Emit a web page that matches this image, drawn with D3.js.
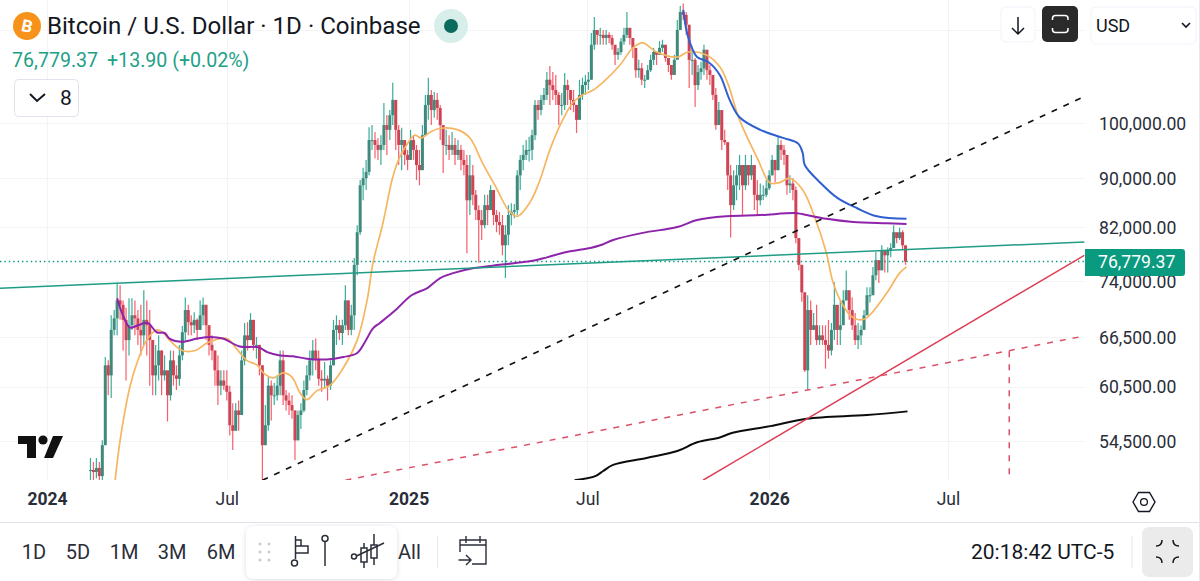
<!DOCTYPE html>
<html>
<head>
<meta charset="utf-8">
<style>
html, body { margin: 0; padding: 0; background: #fff; overflow: hidden; }
svg { display: block; font-family: Roboto, sans-serif; }
</style>
<script src="https://cdn.jsdelivr.net/npm/d3@7"></script>
</head>
<body>
<svg id="chart" width="1200" height="581"></svg>
<script>
// prices are in thousands of USD, days count from 2024-01-01
const firstCandleDay = 44, candleStepDays = 3;
const candleHighs = [
  52.8,52.4,52.8,52.4,54.6,64.0,63.6,69.3,70.0,73.7,73.4,71.3,70.3,71.6,71.6,71.3,70.0,70.7,72.7,71.3,
  70.0,66.1,65.5,66.7,64.8,64.2,61.8,64.8,64.8,63.0,65.5,67.9,71.7,70.7,69.3,69.7,68.9,71.3,71.7,70.7,
  68.0,66.7,64.8,64.2,62.4,62.4,62.4,60.6,58.6,58.6,58.9,64.8,68.3,68.4,69.6,68.7,66.5,65.5,63.0,58.4,
  61.6,61.2,60.9,61.8,64.8,64.8,60.1,59.8,59.5,57.8,57.8,58.6,61.2,63.0,64.8,66.1,66.3,64.8,62.4,63.4,
  61.8,63.6,68.7,69.3,68.7,68.7,73.4,71.3,70.7,77.3,82.3,89.7,91.8,93.2,99.2,99.6,98.3,97.2,97.7,103.9,
  101.5,102.5,108.0,103.5,99.6,99.1,96.8,95.0,98.7,97.7,95.9,95.0,99.6,105.5,109.0,106.5,106.1,105.9,103.5,99.6,
  98.7,97.7,98.3,97.2,96.8,95.9,95.0,94.1,94.1,92.3,88.0,85.5,84.7,87.2,87.2,88.8,88.0,84.7,84.4,83.9,
  82.3,85.5,85.8,85.7,91.4,94.1,95.9,96.8,97.4,98.7,104.5,104.5,105.5,106.9,110.2,111.5,110.2,109.6,106.1,105.9,
  110.0,108.6,106.5,106.5,103.5,108.6,109.0,109.6,110.2,118.7,122.4,119.4,119.9,119.4,119.4,118.9,118.3,115.4,115.4,117.6,
  119.9,123.6,118.3,117.2,113.2,112.8,112.1,109.6,111.7,113.9,115.4,114.5,116.9,117.2,115.0,113.2,110.6,113.9,121.7,125.0,
  125.6,123.6,120.6,115.0,113.2,111.7,112.4,116.1,112.8,111.7,109.6,106.9,104.1,101.5,98.7,96.4,92.3,91.4,92.3,94.1,
  92.3,94.1,92.3,94.1,92.3,89.7,89.1,88.8,89.7,91.4,94.1,92.3,97.4,96.8,95.9,92.3,90.5,90.0,88.6,79.5,
  76.3,72.4,72.0,71.3,69.6,70.7,68.0,68.0,68.0,68.7,68.3,73.8,70.0,71.3,72.7,75.5,72.0,71.7,69.6,68.3,
  68.0,70.0,73.1,73.1,76.0,78.2,76.6,79.2,78.5,78.9,79.5,82.3,81.0,81.9,81.5,78.5
];
const candleLows = [
  50.6,50.6,50.8,50.6,50.6,54.1,59.5,59.2,66.7,66.7,68.7,64.8,61.2,64.2,67.4,66.7,65.5,64.2,65.5,64.2,
  60.6,59.5,59.5,61.2,59.5,61.2,56.6,58.9,60.6,60.1,60.6,63.6,66.1,66.7,66.7,67.0,66.1,67.4,68.0,66.1,
  64.2,63.6,60.6,58.4,59.5,60.1,58.9,55.1,53.6,56.2,55.6,57.3,63.0,64.8,66.1,64.8,63.8,61.8,49.7,54.1,
  55.6,56.7,58.4,58.9,59.5,58.4,57.8,57.3,56.9,52.6,54.6,55.8,57.6,59.5,61.2,61.8,62.4,60.6,59.9,60.3,
  58.9,60.1,63.0,65.5,66.1,65.5,67.4,66.7,66.7,67.4,74.8,80.8,86.3,88.0,90.5,95.0,93.5,93.2,92.3,95.0,
  94.1,96.8,99.6,95.0,92.3,91.4,92.3,91.4,93.2,93.2,89.7,88.8,91.4,98.7,100.6,99.6,101.0,100.6,96.8,90.9,
  94.1,93.2,94.1,92.3,93.2,91.4,90.5,78.0,83.9,85.5,83.1,76.6,80.0,81.8,82.3,85.5,82.3,81.2,80.8,77.7,
  74.4,79.2,82.3,83.4,83.9,88.0,91.4,93.2,92.9,93.2,96.8,100.6,101.5,103.5,104.5,103.5,104.5,103.5,99.6,101.5,
  102.5,103.5,102.5,102.1,98.1,102.5,104.5,105.5,106.5,108.6,115.0,116.1,116.1,116.1,116.1,116.5,115.0,111.7,112.8,113.9,
  116.1,117.6,116.1,113.2,109.0,109.0,107.5,106.9,108.6,110.2,111.7,111.7,113.9,114.5,112.4,110.2,108.6,109.6,113.9,119.9,
  121.7,118.3,106.9,109.6,103.1,106.5,108.6,109.6,108.6,107.5,104.5,98.7,99.6,95.0,95.9,88.0,80.4,84.7,86.3,88.0,
  83.9,88.0,88.8,89.7,84.7,83.9,85.5,86.3,86.8,88.0,90.5,89.3,91.4,93.2,92.3,87.2,87.5,86.3,79.5,75.5,
  71.1,62.2,60.1,65.5,67.4,65.5,65.5,65.5,62.6,63.8,64.2,66.1,65.5,65.5,70.0,71.3,68.7,67.4,65.5,65.0,
  65.5,67.6,69.3,71.0,72.7,74.1,73.7,76.3,75.2,75.2,77.4,79.2,79.5,80.0,78.5,76.3
];
const candleCloses = [
  51.6,51.4,51.8,51.0,54.1,63.0,61.8,67.4,68.9,71.3,70.7,68.7,66.1,68.0,69.3,68.9,67.4,66.7,68.7,68.0,
  66.1,61.8,63.0,64.8,61.8,62.4,59.5,63.6,61.8,61.4,64.2,67.1,70.0,68.4,68.0,68.7,67.4,69.3,70.7,68.0,
  65.5,64.8,62.4,60.6,61.2,60.6,59.9,56.2,55.6,57.8,57.3,63.6,66.7,66.1,68.7,65.5,65.5,63.0,54.1,56.2,
  60.6,59.5,59.5,60.6,63.6,59.5,58.9,58.4,57.8,54.6,57.3,57.8,60.1,61.8,63.6,64.8,63.8,61.4,61.2,61.4,
  60.6,63.0,67.4,68.0,67.0,68.0,71.3,67.4,69.3,76.3,81.2,88.8,90.0,91.1,96.8,96.8,95.9,95.0,95.9,99.6,
  98.7,101.5,104.5,98.7,95.9,96.8,94.1,93.2,96.8,95.0,92.3,91.4,97.7,103.5,105.5,102.5,104.5,102.9,99.6,95.9,
  95.9,95.0,95.9,94.1,95.0,93.2,92.3,86.3,90.5,87.2,84.7,83.1,82.3,85.5,84.7,88.0,83.9,82.8,82.3,79.2,
  80.8,83.9,84.4,84.7,90.5,93.2,94.1,95.0,95.0,97.7,103.5,102.5,104.5,105.5,108.6,107.5,106.5,105.5,103.5,103.5,
  107.5,106.5,104.5,103.5,100.6,105.5,107.5,108.2,108.6,116.1,119.4,118.3,118.3,117.6,118.3,117.6,116.1,113.9,114.5,116.8,
  118.3,119.9,117.6,115.4,110.6,111.0,108.6,108.6,110.6,112.8,114.5,113.9,115.4,116.1,113.2,111.7,109.6,112.8,119.4,123.6,
  122.9,120.6,112.8,112.8,107.5,110.2,111.0,115.0,110.6,109.6,105.5,99.6,102.5,96.8,96.4,90.5,85.5,88.8,90.5,92.3,
  88.8,92.3,90.5,92.3,87.2,86.3,87.2,87.2,88.3,90.5,93.2,91.4,95.9,95.0,94.1,88.8,89.1,88.0,80.3,76.3,
  72.4,62.4,70.0,67.4,68.0,66.1,66.7,66.1,65.5,64.8,67.4,70.7,67.4,68.0,71.3,72.7,70.0,68.0,66.1,66.7,
  67.4,69.3,72.0,72.0,74.8,77.0,75.5,78.5,77.7,78.5,78.8,81.2,80.3,81.2,79.2,76.77937
];

const orangeDays = [69,74,84,92,101,111,117,124,137,150,163,182,192,202,213,219,229,239,248,256,263,273,286,300,314,324,330,340,350,357,364,372,379,388,398,416,428,441,455,467,476,489,499,509,521,532,542,553,563,580,593,603,617,638,649,668,681,689,701,719,732,742,752,765,777,789,795,803,813,823,830,850,863,870];
const orangePrices = [50.6,54.6,60.5,63.6,66.1,67.4,67.1,66.1,64.8,64.8,65.8,66.3,65.0,63.6,63.0,62.1,61.5,62.1,61.6,59.8,59.0,60.0,60.6,62.7,66.1,71.3,76.6,82.6,90.2,93.7,95.9,97.7,97.2,98.3,99.0,98.7,97.2,92.6,88.3,84.7,83.7,86.0,89.7,95.0,100.2,103.9,105.5,106.5,108.1,111.7,115.4,116.5,114.5,113.4,114.5,113.8,111.3,107.9,100.6,93.5,89.2,89.3,90.0,88.0,83.6,78.0,74.1,71.3,69.3,68.7,69.0,72.3,75.1,76.0];

const purpleDays = [71,76,84,92,102,111,119,124,137,152,165,178,195,214,223,236,249,263,283,300,314,322,330,337,352,369,385,398,411,431,458,476,492,506,526,550,560,573,603,638,658,688,722,759,769,789,816,850,870];
const purplePrices = [71.6,69.6,67.7,68.0,68.3,67.1,67.0,66.3,65.9,66.3,66.5,66.3,65.3,65.2,64.6,64.2,64.1,63.8,63.7,64.0,64.5,65.9,67.6,68.3,69.9,72.0,73.0,74.4,75.1,75.8,76.3,76.6,76.9,77.4,78.2,78.8,79.2,80.0,81.1,82.0,83.1,83.7,83.9,84.2,83.9,83.3,82.8,82.6,82.5];

const blueDays = [644,649,658,669,681,691,701,722,745,760,765,767,783,800,820,840,870];
const bluePrices = [124.1,117.8,113.4,112.4,109.6,104.5,101.1,98.7,97.2,96.2,94.4,92.3,89.2,86.7,85.0,83.7,83.3];

const blackDays = [534,555,563,573,607,638,658,681,694,732,769,830,871];
const blackPrices = [50.6,51.0,51.5,52.1,52.8,53.5,54.4,54.9,55.4,56.1,56.9,57.3,57.7];

// drawn trend lines: [start day, start price, end day, end price]
const greenTrend = [-48, 72.98, 1050, 79.7];
const blackTrend = [218, 50.6, 1047, 104.9];
const redTrend = [664, 50.6, 1050, 77.7];
const redDashTrend = [302, 50.6, 1045, 66.5];
const redDrop = [974, 64.7, 974, 50.6];
const lastPrice = 76.77937;

const priceTicks = [100, 90, 82, 74, 66.5, 60.5, 54.5];
const hiddenGridPrices = [119.4];
const timeTicks = ["2024-01-01", "2024-07-01", "2025-01-01", "2025-07-01", "2026-01-01", "2026-07-01"];
const timeLabels = ["2024", "Jul", "2025", "Jul", "2026", "Jul"];
const rangeLabels = ["1D", "5D", "1M", "3M", "6M"];
const rangeX = [34, 78, 124, 172, 221];

const upColor = "#089981", downColor = "#f23645", gridColor = "#f3f4f6", textColor = "#131722";
const paneW = 1085, paneH = 480;

const svg = d3.select("#chart");
const parseDay = d3.utcParse("%Y-%m-%d");
const baseDate = parseDay("2024-01-01");
const dayDate = n => d3.utcHour.offset(baseDate, n * 24);

const x = d3.scaleUtc().domain([baseDate, parseDay("2026-07-01")]).range([47, 948]);
const y = d3.scaleLog().domain([100, 54.5]).range([123, 441.3]);

const candles = candleCloses.map((c, i) => ({
  day: firstCandleDay + i * candleStepDays,
  open: i ? candleCloses[i - 1] : c,
  high: candleHighs[i],
  low: candleLows[i],
  close: c
}));

svg.append("defs").append("clipPath").attr("id", "pane")
  .append("rect").attr("width", paneW).attr("height", paneH);

// grid
const grid = svg.append("g").attr("stroke", gridColor).attr("stroke-width", 1);
grid.selectAll(".h").data(priceTicks.concat(hiddenGridPrices)).join("line")
  .attr("x1", 0).attr("x2", paneW)
  .attr("y1", d => Math.round(y(d)) + 0.5).attr("y2", d => Math.round(y(d)) + 0.5);
grid.selectAll(".v").data(timeTicks).join("line")
  .attr("y1", 0).attr("y2", paneH)
  .attr("x1", d => Math.round(x(parseDay(d))) + 0.5).attr("x2", d => Math.round(x(parseDay(d))) + 0.5);

const pane = svg.append("g").attr("clip-path", "url(#pane)");

// last price dotted line
pane.append("line")
  .attr("x1", 0).attr("x2", paneW).attr("y1", y(lastPrice)).attr("y2", y(lastPrice))
  .attr("stroke", upColor).attr("stroke-width", 1.4).attr("stroke-dasharray", "1.4 3");

// watermark
svg.append("g").attr("fill", "#111")
  .call(g => g.append("path").attr("d", "M18 436H36V458H27V444H18Z"))
  .call(g => g.append("circle").attr("cx", 43).attr("cy", 440).attr("r", 4.6))
  .call(g => g.append("path").attr("d", "M53 436H63L53 458H44Z"));

// candles
const candleG = pane.selectAll(".candle").data(candles).join("g").attr("class", "candle");
candleG.append("line")
  .attr("x1", d => x(dayDate(d.day))).attr("x2", d => x(dayDate(d.day)))
  .attr("y1", d => y(d.high)).attr("y2", d => y(d.low))
  .attr("stroke", d => d.close >= d.open ? upColor : downColor)
  .attr("stroke-opacity", 0.8).attr("stroke-width", 1.2);
candleG.append("rect")
  .attr("x", d => x(dayDate(d.day)) - 1.5)
  .attr("width", 3)
  .attr("y", d => Math.min(y(d.open), y(d.close)))
  .attr("height", d => Math.max(1, Math.abs(y(d.open) - y(d.close))))
  .attr("fill", d => d.close >= d.open ? "#3f8a7b" : "#cf4454");

// moving averages
const maLine = d3.line().x(d => x(dayDate(d[0]))).y(d => y(d[1])).curve(d3.curveCatmullRom.alpha(0.5));
function drawMa(days, prices, color, width) {
  pane.append("path")
    .attr("d", maLine(days.map((d, i) => [d, prices[i]])))
    .attr("fill", "none").attr("stroke", color).attr("stroke-width", width)
    .attr("stroke-linejoin", "round");
}
drawMa(orangeDays, orangePrices, "#f6b661", 1.7);
drawMa(purpleDays, purplePrices, "#8e24aa", 2);
drawMa(blueDays, bluePrices, "#2f5fd0", 2);
drawMa(blackDays, blackPrices, "#0c0c0c", 2);

// trend lines
function drawTrend(t, color, width, dash) {
  pane.append("line")
    .attr("x1", x(dayDate(t[0]))).attr("y1", y(t[1]))
    .attr("x2", x(dayDate(t[2]))).attr("y2", y(t[3]))
    .attr("stroke", color).attr("stroke-width", width)
    .attr("stroke-dasharray", dash);
}
drawTrend(greenTrend, "#1f9c85", 1.5);
drawTrend(blackTrend, "#111", 1.7, "6 7");
drawTrend(redTrend, "#dd3f55", 1.5);
drawTrend(redDashTrend, "#dc5068", 1.5, "6 7");
drawTrend(redDrop, "#dc5068", 1.5, "6 7");

// axes
const yAxis = d3.axisRight(y).tickValues(priceTicks).tickSize(0).tickPadding(0)
  .tickFormat(v => d3.format(",.2f")(v * 1000));
const yG = svg.append("g").attr("transform", "translate(1099,0)").call(yAxis);
yG.select(".domain").remove();
yG.selectAll("text").attr("font-family", "Roboto").attr("font-size", 17.6).attr("fill", "#2a2e39").attr("dy", "0.35em");

const xAxis = d3.axisBottom(x).tickValues(timeTicks.map(parseDay)).tickSize(0).tickPadding(0)
  .tickFormat((d, i) => timeLabels[i]);
const xG = svg.append("g").attr("transform", "translate(0,493)").call(xAxis);
xG.select(".domain").remove();
xG.selectAll("text").attr("font-family", "Roboto").attr("font-size", 17.5).attr("fill", "#2a2e39")
  .attr("font-weight", (d, i) => /^\d/.test(timeLabels[i]) ? 700 : 400);

// last price tag
svg.append("path").attr("d", "M1085 249H1182a3 3 0 0 1 3 3V273a3 3 0 0 1 -3 3H1085Z").attr("fill", "#0a9a7f");
svg.append("text").attr("x", 1098).attr("y", 262).attr("dy", "0.35em")
  .attr("font-size", 17.6).attr("fill", "#fff").text(d3.format(",.2f")(lastPrice * 1000));

// header
svg.append("circle").attr("cx", 27).attr("cy", 26).attr("r", 14).attr("fill", "#f7931a");
svg.append("text").attr("x", 27).attr("y", 32).attr("text-anchor", "middle")
  .attr("font-size", 17).attr("font-weight", 700).attr("fill", "#fff")
  .attr("transform", "rotate(12 27 26)").text("B");
svg.append("text").attr("x", 47).attr("y", 34).attr("font-size", 24.1).attr("fill", "#131722")
  .text("Bitcoin / U.S. Dollar · 1D · Coinbase");
svg.append("circle").attr("cx", 451).attr("cy", 26).attr("r", 17).attr("fill", "#d8eeea");
svg.append("circle").attr("cx", 451).attr("cy", 26).attr("r", 7).attr("fill", "#0b6b5c");
svg.append("text").attr("x", 12).attr("y", 67).attr("font-size", 19.6).attr("fill", "#22a086").text("76,779.37");
svg.append("text").attr("x", 107).attr("y", 67).attr("font-size", 19.6).attr("fill", "#22a086").text("+13.90 (+0.02%)");
svg.append("rect").attr("x", 14.5).attr("y", 79.5).attr("width", 64).attr("height", 37).attr("rx", 4)
  .attr("fill", "#fff").attr("stroke", "#e0e3eb");
svg.append("path").attr("d", "M30 94L37 101L45 94").attr("fill", "none").attr("stroke", "#131722").attr("stroke-width", 2);
svg.append("text").attr("x", 60).attr("y", 105).attr("font-size", 21).attr("fill", "#131722").text("8");

// top right buttons
svg.append("rect").attr("x", 1001).attr("y", 7).attr("width", 34).attr("height", 35).attr("rx", 5)
  .attr("fill", "#fff").attr("stroke", "#f0f3fa");
svg.append("path").attr("d", "M1018 17V34M1012 28L1018 34L1024 28").attr("fill", "none").attr("stroke", "#131722").attr("stroke-width", 1.5);
svg.append("rect").attr("x", 1042).attr("y", 6).attr("width", 36).attr("height", 36).attr("rx", 5).attr("fill", "#2a2a2a");
svg.append("path").attr("d", "M1052.5 20V18.5a3 3 0 0 1 3 -3H1065a3 3 0 0 1 3 3V20M1052.5 28V29.5a3 3 0 0 0 3 3H1065a3 3 0 0 0 3 -3V28")
  .attr("fill", "none").attr("stroke", "#fff").attr("stroke-width", 1.5);
svg.append("rect").attr("x", 1091).attr("y", 7).attr("width", 105).attr("height", 37).attr("rx", 5)
  .attr("fill", "#fff").attr("stroke", "#f0f3fa");
svg.append("text").attr("x", 1096).attr("y", 32).attr("font-size", 18).attr("fill", "#131722").text("USD");
svg.append("path").attr("d", "M1182 23L1186 27L1190 23").attr("fill", "none").attr("stroke", "#131722").attr("stroke-width", 1.6);

// settings hexagon
svg.append("path").attr("d", "M1133 502L1138.5 492.5H1149.5L1155 502L1149.5 511.5H1138.5Z")
  .attr("fill", "none").attr("stroke", "#131722").attr("stroke-width", 1.4);
svg.append("circle").attr("cx", 1144).attr("cy", 502).attr("r", 3.4).attr("fill", "none").attr("stroke", "#131722").attr("stroke-width", 1.3);

// bottom toolbar
svg.append("line").attr("x1", 0).attr("x2", 1200).attr("y1", 522.5).attr("y2", 522.5).attr("stroke", "#e0e3eb");
svg.append("line").attr("x1", 1199.5).attr("x2", 1199.5).attr("y1", 0).attr("y2", 581).attr("stroke", "#e8e9ee");
svg.selectAll(".range").data(rangeLabels).join("text")
  .attr("x", (d, i) => rangeX[i]).attr("y", 559).attr("text-anchor", "middle")
  .attr("font-size", 20).attr("fill", "#2a2e39").text(d => d);
svg.append("text").attr("x", 398).attr("y", 559).attr("font-size", 20).attr("fill", "#2a2e39").text("All");
svg.append("line").attr("x1", 437.5).attr("x2", 437.5).attr("y1", 536).attr("y2", 568).attr("stroke", "#e8e9ee");

// calendar icon
svg.append("path").attr("d", "M460 552V540H486V564H472M466 536V543M480 536V543M460 545H486M458.5 560H470M466 555L471 560L466 565")
  .attr("fill", "none").attr("stroke", "#2a2e39").attr("stroke-width", 1.4);

// floating tool panel
const filter = svg.select("defs").append("filter").attr("id", "shadow").attr("x", "-20%").attr("y", "-20%").attr("width", "140%").attr("height", "140%");
filter.append("feDropShadow").attr("dx", 0).attr("dy", 1).attr("stdDeviation", 2.5).attr("flood-color", "#000").attr("flood-opacity", 0.14);
svg.append("rect").attr("x", 246).attr("y", 526).attr("width", 151).attr("height", 53).attr("rx", 8)
  .attr("fill", "#fff").attr("filter", "url(#shadow)");
svg.append("g").attr("fill", "#c9cbd0").selectAll("circle")
  .data([[260, 544], [269, 544], [260, 552], [269, 552], [260, 560], [269, 560]]).join("circle")
  .attr("cx", d => d[0]).attr("cy", d => d[1]).attr("r", 1.5);
svg.append("g").attr("fill", "none").attr("stroke", "#2a2e39").attr("stroke-width", 1.5)
  .call(g => g.append("path").attr("d", "M295.5 559V536M295.5 540H301V546H295.5M295.5 546H308V553H295.5"))
  .call(g => g.append("circle").attr("cx", 294.5).attr("cy", 563).attr("r", 3))
  .call(g => g.append("path").attr("d", "M325 542V566"))
  .call(g => g.append("circle").attr("cx", 325).attr("cy", 538.5).attr("r", 3))
  .call(g => g.append("circle").attr("cx", 354).attr("cy", 556.5).attr("r", 2.5))
  .call(g => g.append("path").attr("d", "M356.5 556L384 543"))
  .call(g => g.append("rect").attr("x", 361).attr("y", 548).attr("width", 6).attr("height", 14))
  .call(g => g.append("path").attr("d", "M364 543V548M364 562V568"))
  .call(g => g.append("rect").attr("x", 371).attr("y", 545).attr("width", 6).attr("height", 13))
  .call(g => g.append("path").attr("d", "M374 534V545M374 558V565"));

svg.append("text").attr("x", 971).attr("y", 559).attr("font-size", 21).attr("fill", "#131722").text("20:18:42 UTC-5");
svg.append("line").attr("x1", 1132).attr("x2", 1132).attr("y1", 536).attr("y2", 568).attr("stroke", "#e8e9ee");
svg.append("rect").attr("x", 1142).attr("y", 527).attr("width", 51).attr("height", 50).attr("rx", 7).attr("fill", "#ebebeb");
svg.append("path").attr("d", "M1156 546Q1162 546 1162 540M1179 546Q1173 546 1173 540M1156 557Q1162 557 1162 563M1179 557Q1173 557 1173 563")
  .attr("fill", "none").attr("stroke", "#131722").attr("stroke-width", 1.5);
</script>
</body>
</html>
